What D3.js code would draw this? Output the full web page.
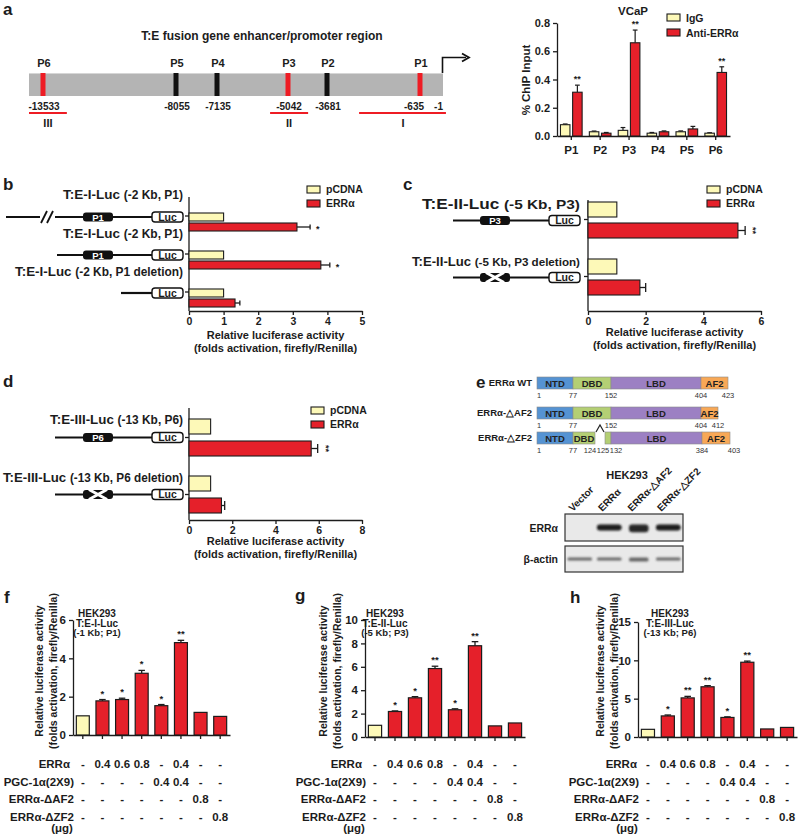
<!DOCTYPE html>
<html><head><meta charset="utf-8">
<script src="https://cdn.jsdelivr.net/npm/d3@7"></script>
<style>body{margin:0;background:#fff} svg text{font-family:"Liberation Sans",Arial,sans-serif}</style>
</head><body><svg id="c" width="800" height="837"></svg>
<script>
// ---------------- DATA ----------------
// panel a (promoter map)
const promoterSites = ["P6","P5","P4","P3","P2","P1"];
const promoterPos = [-13533,-8055,-7135,-5042,-3681,-635];
const promoterBound = [true,false,false,true,false,true];
const regionNames = ["III","II","I"];
const regionStart = [-14100,-5570,-2630];
const regionEnd = [-12550,-4340,80];
// panel a (ChIP)
const chipSites = ["P1","P2","P3","P4","P5","P6"];
const chipIgG = [0.08,0.03,0.04,0.02,0.03,0.02];
const chipIgGErr = [0.005,0.005,0.02,0.005,0.006,0.003];
const chipERR = [0.31,0.02,0.66,0.03,0.05,0.45];
const chipERRErr = [0.05,0.005,0.09,0.006,0.018,0.04];
const chipStars = ["**","","**","","","**"];
// panel b
const bLabels = [["T:E-I-Luc","(-2 Kb, P1)"],["T:E-I-Luc","(-2 Kb, P1)"],["T:E-I-Luc","(-2 Kb, P1 deletion)"]];
const bPcdna = [1,1,1];
const bERR = [3.12,3.81,1.33];
const bERRErr = [0.38,0.26,0.14];
const bStars = ["*","*",""];
const bTicks = [0,1,2,3,4,5];
// panel c
const cLabels = [["T:E-II-Luc","(-5 Kb, P3)"],["T:E-II-Luc","(-5 Kb, P3 deletion)"]];
const cPcdna = [1,1];
const cERR = [5.2,1.8];
const cERRErr = [0.25,0.2];
const cStars = ["**",""];
const cTicks = [0,2,4,6];
// panel d
const dLabels = [["T:E-III-Luc","(-13 Kb, P6)"],["T:E-III-Luc","(-13 Kb, P6 deletion)"]];
const dPcdna = [1,1];
const dERR = [5.65,1.5];
const dERRErr = [0.3,0.15];
const dStars = ["**",""];
const dTicks = [0,2,4,6,8];
// panel e
const eRows = ["ERRα WT","ERRα-△AF2","ERRα-△ZF2"];
const eDomNames = [["NTD","DBD","LBD","AF2"],["NTD","DBD","LBD","AF2"],["NTD","DBD","","LBD","AF2"]];
const eDomStart = [[1,77,152,404],[1,77,152,404],[1,77,125,132,384]];
const eDomEnd = [[77,152,404,423],[77,152,404,412],[77,124,132,384,403]];
const eTickVals = [[1,77,152,404,423],[1,77,152,404,412],[1,77,124,125,132,384,403]];
const blotLanes = ["Vector","ERRα","ERRα-△AF2","ERRα-△ZF2"];
const blotERR = [0,1,0.95,1];
const blotActin = [0.7,0.7,0.7,0.7];
// panels f, g, h
const tableRows = ["ERRα","PGC-1α(2X9)","ERRα-ΔAF2","ERRα-ΔZF2"];
const tERR = ["-","0.4","0.6","0.8","-","0.4","-","-"];
const tPGC = ["-","-","-","-","0.4","0.4","-","-"];
const tAF2 = ["-","-","-","-","-","-","0.8","-"];
const tZF2 = ["-","-","-","-","-","-","-","0.8"];
const fVals = [1.0,1.78,1.85,3.22,1.53,4.82,1.18,0.97];
const fErr = [0,0.07,0.07,0.15,0.06,0.12,0,0];
const fStars = ["","*","*","*","*","**","",""];
const gVals = [1.0,2.18,3.35,5.85,2.33,7.8,0.95,1.2];
const gErr = [0,0.05,0.1,0.2,0.08,0.35,0,0];
const gStars = ["","*","*","**","*","**","",""];
const hVals = [1.0,2.75,5.1,6.55,2.55,9.75,1.05,1.25];
const hErr = [0,0.12,0.2,0.15,0.08,0.15,0,0];
const hStars = ["","*","**","**","*","**","",""];

// ---------------- STYLE ----------------
const FONT = '"Liberation Sans", Arial, sans-serif';
const RED = "#e5202a", YEL = "#fdf9b8", INK = "#1c1c1c";
const svg = d3.select("#c");
svg.append("rect").attr("width",800).attr("height",837).attr("fill","#fff");
const defs = svg.append("defs");
defs.append("filter").attr("id","blur").attr("x","-20%").attr("y","-80%").attr("width","140%").attr("height","260%")
  .append("feGaussianBlur").attr("stdDeviation",1.1);

function txt(g,x,y,s,o={}){
  const t=g.append("text").attr("x",x).attr("y",y).text(s)
    .attr("font-size",o.size||11).attr("font-weight",o.weight||"bold")
    .attr("text-anchor",o.anchor||"start").attr("fill",o.fill||INK);
  if(o.rotate!=null) t.attr("transform",`rotate(${o.rotate},${x},${y})`);
  return t;
}
function styleAxis(sel,size){
  sel.attr("font-family",FONT).attr("font-size",size).attr("font-weight","bold");
  sel.selectAll("path,line").attr("stroke",INK).attr("stroke-width",1.3);
  sel.selectAll("text").attr("fill",INK);
}
function letter(x,y,s){ txt(svg,x,y,s,{size:17}); }

// ---------------- PANEL a: map ----------------
(function(){
  const g=svg.append("g");
  letter(3,15,"a");
  // schematic (non-linear) layout of the map
  const x=d3.scaleLinear().domain([-14100,...promoterPos,-1]).range([29,43,176,217,288,327,420,443]);
  txt(g,262,40,"T:E fusion gene enhancer/promoter region",{size:12,anchor:"middle"});
  g.append("rect").attr("x",x(-14100)).attr("y",73).attr("width",x(-1)-x(-14100)).attr("height",23).attr("fill","#b4b4b4");
  g.append("line").attr("x1",x(-14100)).attr("x2",x(-1)).attr("y1",73.5).attr("y2",73.5).attr("stroke","#d6d6d6").attr("stroke-width",1);
  promoterSites.forEach((p,i)=>{
    const cx=x(promoterPos[i]);
    g.append("rect").attr("x",cx-2.5).attr("y",73).attr("width",5).attr("height",23).attr("fill",promoterBound[i]?"#ee1c24":"#111");
    txt(g,cx+1,67,p,{size:11,anchor:"middle"});
    if(p==="P1") txt(g,cx+4,110,String(promoterPos[i]),{size:10,anchor:"end"});
    else txt(g,cx+1,110,String(promoterPos[i]),{size:10,anchor:"middle"});
  });
  txt(g,x(-1),110,"-1",{size:10,anchor:"end"});
  regionNames.forEach((r,i)=>{
    const a=x(regionStart[i]), b=x(regionEnd[i]);
    g.append("line").attr("x1",a).attr("x2",b).attr("y1",113).attr("y2",113).attr("stroke","#ee1c24").attr("stroke-width",2);
    txt(g,i===2?403:(a+b)/2,127,r,{size:11,anchor:"middle"});
  });
  const ax=x(-1)-0.5;
  g.append("path").attr("d",`M${ax},73 V57.5 H466`).attr("fill","none").attr("stroke","#111").attr("stroke-width",1.6);
  g.append("path").attr("d",`M462,53.5 L469,57.5 L462,61.5`).attr("fill","none").attr("stroke","#111").attr("stroke-width",1.8);
})();

// ---------------- PANEL a: ChIP ----------------
(function(){
  const g=svg.append("g");
  const X0=557, X1=730, Y0=136;
  const x=d3.scaleBand().domain(chipSites).range([X0,X1]).paddingInner(0.25).paddingOuter(0.12);
  const sub=d3.scaleBand().domain([0,1]).range([0,x.bandwidth()]).paddingInner(0.22);
  const y=d3.scaleLinear().domain([0,0.8]).range([Y0,23]);
  const ya=g.append("g").attr("transform",`translate(${X0},0)`).call(d3.axisLeft(y).tickValues([0,0.2,0.4,0.6,0.8]).tickFormat(d3.format(".1f")).tickSize(4).tickSizeOuter(0));
  styleAxis(ya,11);
  const xa=g.append("g").attr("transform",`translate(0,${Y0})`).call(d3.axisBottom(x).tickSize(4).tickSizeOuter(0));
  styleAxis(xa,11.5);
  xa.selectAll("text").attr("dy","0.95em");
  txt(g,633,15,"VCaP",{size:11.5,anchor:"middle"});
  txt(g,530,80,"% ChIP Input",{size:11.5,anchor:"middle",rotate:-90});
  const series=[[chipIgG,chipIgGErr,YEL],[chipERR,chipERRErr,RED]];
  chipSites.forEach((s,i)=>{
    series.forEach((se,k)=>{
      const bx=x(s)+sub(k), w=sub.bandwidth(), v=se[0][i], e=se[1][i];
      g.append("line").attr("x1",bx+w/2).attr("x2",bx+w/2).attr("y1",y(v)).attr("y2",y(v+e)).attr("stroke",INK).attr("stroke-width",1.2);
      g.append("line").attr("x1",bx+w*0.25).attr("x2",bx+w*0.75).attr("y1",y(v+e)).attr("y2",y(v+e)).attr("stroke",INK).attr("stroke-width",1.2);
      g.append("rect").attr("x",bx).attr("y",y(v)).attr("width",w).attr("height",Y0-y(v)).attr("fill",se[2]).attr("stroke",INK).attr("stroke-width",1.1);
    });
    if(chipStars[i]){
      const bx=x(s)+sub(1)+sub.bandwidth()/2;
      txt(g,bx,y(chipERR[i]+chipERRErr[i])-3,chipStars[i],{size:9,anchor:"middle"});
    }
  });
  // legend
  [["IgG",YEL],["Anti-ERRα",RED]].forEach((l,k)=>{
    g.append("rect").attr("x",667).attr("y",14+k*15).attr("width",13).attr("height",7).attr("fill",l[1]).attr("stroke",INK).attr("stroke-width",1.1);
    txt(g,686,21.5+k*15,l[0],{size:10.5});
  });
})();

// ---------------- construct diagrams ----------------
function lineSeg(g,x1,x2,y){ g.append("line").attr("x1",x1).attr("x2",x2).attr("y1",y).attr("y2",y).attr("stroke","#111").attr("stroke-width",2.2); }
function pBox(g,x,y,label,deleted){
  g.append("rect").attr("x",x).attr("y",y-4.5).attr("width",30).attr("height",9).attr("rx",3).attr("fill","#111");
  if(!deleted){ txt(g,x+15,y+3.5,label,{size:9.5,anchor:"middle",fill:"#fff"}); }
  else{
    g.append("path").attr("d",`M${x+6},${y-5} L${x+24},${y+5} M${x+6},${y+5} L${x+24},${y-5}`).attr("stroke","#fff").attr("stroke-width",3);
  }
}
function lucBox(g,x,y){
  g.append("rect").attr("x",x).attr("y",y-5).attr("width",31).attr("height",10).attr("rx",3).attr("fill","#fff").attr("stroke","#111").attr("stroke-width",1.4);
  txt(g,x+15.5,y+3.8,"Luc",{size:10.5,anchor:"middle"});
}
function rowLabel(g,xr,y,parts,sz,w){
  const t=g.append("text").attr("x",xr).attr("y",y).attr("text-anchor","end").attr("font-weight","bold").attr("fill",INK)
    .attr("textLength",w).attr("lengthAdjust","spacingAndGlyphs");
  t.append("tspan").attr("font-size",sz[0]).text(parts[0]+" ");
  t.append("tspan").attr("font-size",sz[1]).text(parts[1]);
}

// ---------------- horizontal bar panels ----------------
function hbar(cfg){
  const g=svg.append("g");
  const x=d3.scaleLinear().domain([0,d3.max(cfg.ticks)]).range([cfg.x0,cfg.x1]);
  const y=d3.scaleBand().domain(d3.range(cfg.pc.length)).range(cfg.band);
  g.append("line").attr("x1",cfg.x0).attr("x2",cfg.x0).attr("y1",cfg.top).attr("y2",cfg.axisY).attr("stroke",INK).attr("stroke-width",1.3);
  const ya=g.append("g").attr("transform",`translate(${cfg.x0},0)`).call(d3.axisLeft(y).tickSize(4).tickSizeOuter(0).tickFormat(""));
  ya.select(".domain").remove(); styleAxis(ya,10);
  const xa=g.append("g").attr("transform",`translate(0,${cfg.axisY})`).call(d3.axisBottom(x).tickValues(cfg.ticks).tickFormat(d3.format("d")).tickSize(4).tickSizeOuter(0));
  styleAxis(xa,10.5);
  const cx=(cfg.x0+cfg.x1)/2;
  txt(g,cx,cfg.t1,"Relative luciferase activity",{size:11,anchor:"middle"});
  txt(g,cx,cfg.t1+13,"(folds activation, firefly/Renilla)",{size:11,anchor:"middle"});
  cfg.pc.forEach((v,i)=>{
    const c=y(i)+y.bandwidth()/2;
    g.append("rect").attr("x",x(0)).attr("y",c+cfg.pcOff).attr("width",x(v)-x(0)).attr("height",cfg.bh).attr("fill",YEL).attr("stroke",INK).attr("stroke-width",1.1);
    const v2=cfg.er[i], e=cfg.err[i], yy=c+cfg.erOff;
    g.append("line").attr("x1",x(v2)).attr("x2",x(v2+e)).attr("y1",yy+cfg.bh/2).attr("y2",yy+cfg.bh/2).attr("stroke",INK).attr("stroke-width",1.3);
    g.append("line").attr("x1",x(v2+e)).attr("x2",x(v2+e)).attr("y1",yy+cfg.bh*0.2).attr("y2",yy+cfg.bh*0.8).attr("stroke",INK).attr("stroke-width",1.3);
    g.append("rect").attr("x",x(0)).attr("y",yy).attr("width",x(v2)-x(0)).attr("height",cfg.bh).attr("fill",RED).attr("stroke",INK).attr("stroke-width",1.1);
    if(cfg.stars[i]){
      if(cfg.rotStar) txt(g,x(v2+e)+5,yy+cfg.bh/2,cfg.stars[i],{size:9,anchor:"middle",rotate:90});
      else txt(g,x(v2+e)+6,yy+cfg.bh/2+5,cfg.stars[i],{size:9});
    }
    cfg.construct(g,i,c);
    rowLabel(g,cfg.labelX,c+cfg.labOff[i],cfg.labels[i],cfg.labSize[i],cfg.labW[i]);
  });
  // legend
  [["pCDNA",YEL],["ERRα",RED]].forEach((l,k)=>{
    g.append("rect").attr("x",cfg.legX).attr("y",cfg.legY+k*14).attr("width",13).attr("height",7).attr("fill",l[1]).attr("stroke",INK).attr("stroke-width",1.1);
    txt(g,cfg.legX+19,cfg.legY+7+k*14,l[0],{size:10.5});
  });
}
letter(3,190,"b");
hbar({x0:189,x1:362,ticks:bTicks,band:[197,311],top:197,axisY:311,pc:bPcdna,er:bERR,err:bERRErr,stars:bStars,
  bh:8,pcOff:-3,erOff:7,t1:339,labelX:183,labOff:[-17,-16,-16],labels:bLabels,legX:307,legY:186,rotStar:false,
  labSize:[[13.5,12],[13.5,12],[13.5,12]],labW:[120,120,168],
  construct:(g,i,c)=>{ const yy=c+1;
    if(i===0){ lineSeg(g,6,40,yy); lineSeg(g,55,152,yy);
      g.append("path").attr("d",`M41,${yy+6} L47,${yy-6} M47,${yy+6} L53,${yy-6}`).attr("stroke","#111").attr("stroke-width",1.8); pBox(g,83,yy,"P1",false); }
    else if(i===1){ lineSeg(g,57,152,yy); pBox(g,83,yy,"P1",false); }
    else { lineSeg(g,121,152,yy); }
    lucBox(g,152,yy);
  }});
letter(403,190,"c");
hbar({x0:588,x1:761,ticks:cTicks,band:[191,305],top:200,axisY:311,pc:cPcdna,er:cERR,err:cERRErr,stars:cStars,
  bh:15,pcOff:-17.5,erOff:3.5,t1:336,labelX:580,labOff:[-11,-11],labels:cLabels,legX:707,legY:186,rotStar:true,
  labSize:[[14.5,13],[13,11.5]],labW:[158,168],
  construct:(g,i,c)=>{ const yy=c+1; lineSeg(g,453,550,yy); pBox(g,480,yy,"P3",i===1); lucBox(g,549,yy); }});
letter(3,387,"d");
hbar({x0:189,x1:362,ticks:dTicks,band:[409,523],top:408,axisY:520,pc:dPcdna,er:dERR,err:dERRErr,stars:dStars,
  bh:15,pcOff:-18.5,erOff:3.5,t1:545,labelX:183,labOff:[-14,-13],labels:dLabels,legX:311,legY:407,rotStar:true,
  labSize:[[13.5,12],[13.5,12]],labW:[133,180],
  construct:(g,i,c)=>{ const yy=c; lineSeg(g,55,152,yy); pBox(g,83,yy,"P6",i===1); lucBox(g,152,yy); }});

// ---------------- PANEL e ----------------
(function(){
  const g=svg.append("g");
  letter(476,388,"e");
  const domColor={NTD:"#5593d3",DBD:"#b4cf74",LBD:"#9c80c3",AF2:"#f8a856","":"#b4cf74"};
  // schematic (non-proportional) layout of residues
  const xs=[
    d3.scaleLinear().domain([1,77,152,404,423]).range([537,573,611,701,728]),
    d3.scaleLinear().domain([1,77,152,404,412]).range([537,573,611,701,718]),
    d3.scaleLinear().domain([1,77,124,125,132,384,403]).range([537,573,595,605,611,702,730])];
  const rowY=[377,407,432];
  const labDx=[[2,0,0,0,0],[2,0,0,0,0],[2,0,-5,-2,5,0,4]];
  eRows.forEach((r,i)=>{
    const x=xs[i], y0=rowY[i];
    txt(g,532,y0+9,r,{size:9.5,anchor:"end"});
    eDomNames[i].forEach((n,k)=>{
      const a=x(eDomStart[i][k]), b=x(eDomEnd[i][k]);
      g.append("rect").attr("x",a).attr("y",y0).attr("width",b-a).attr("height",12).attr("fill",domColor[n]).attr("stroke","#8a8a8a").attr("stroke-width",0.6);
      if(n) txt(g,(a+b)/2,y0+9.5,n,{size:9.5,anchor:"middle",fill:"#222"});
    });
    eTickVals[i].forEach((t,k)=>{ txt(g,x(t)+labDx[i][k],y0+21,String(t),{size:7.5,weight:"normal",anchor:"middle",fill:"#333"}); });
    if(i===2){
      g.append("path").attr("d",`M${x(124)+1},${y0} L${(x(124)+x(125))/2},${y0-7} L${x(125)-1},${y0}`).attr("fill","none").attr("stroke","#222").attr("stroke-width",1.2);
    }
  });
  // western blot
  txt(g,627,479,"HEK293",{size:11,anchor:"middle"});
  const lx=d3.scaleBand().domain(blotLanes).range([565,683]);
  blotLanes.forEach(l=>{ txt(g,lx(l)+lx.bandwidth()/2-7,512,l,{size:10,rotate:-45}); });
  const boxes=[[514,541,"ERRα",blotERR,6,"#1a1a1a"],[546,572,"β-actin",blotActin,3.2,"#333"]];
  boxes.forEach(b=>{
    g.append("rect").attr("x",565).attr("y",b[0]).attr("width",118).attr("height",b[1]-b[0]).attr("fill","#e9e9e9").attr("stroke","#333").attr("stroke-width",1.2);
    txt(g,558,(b[0]+b[1])/2+4,b[2],{size:10.5,anchor:"end"});
    blotLanes.forEach((l,k)=>{
      const v=b[3][k]; if(!v) return;
      const w=lx.bandwidth()*(k===2?0.66:0.84);
      g.append("rect").attr("x",lx(l)+(lx.bandwidth()-w)/2).attr("y",(b[0]+b[1])/2-b[4]/2).attr("width",w).attr("height",b[4]*(k===2?1.3:1))
        .attr("rx",b[4]/2).attr("fill",b[5]).attr("opacity",v).attr("filter","url(#blur)");
    });
  });
})();

// ---------------- vertical bar panels ----------------
function vbar(cfg){
  const g=svg.append("g");
  const x=d3.scaleBand().domain(d3.range(cfg.vals.length)).range([cfg.x0,cfg.x1]).paddingInner(0.34).paddingOuter(0.17);
  const y=d3.scaleLinear().domain([0,cfg.max]).range([cfg.y0,cfg.y1]);
  const ya=g.append("g").attr("transform",`translate(${cfg.x0},0)`).call(d3.axisLeft(y).tickValues(cfg.ticks).tickFormat(d3.format("d")).tickSize(4).tickSizeOuter(0));
  styleAxis(ya,11.5);
  const xa=g.append("g").attr("transform",`translate(0,${cfg.y0})`).call(d3.axisBottom(x).tickFormat("").tickSize(4).tickSizeOuter(0));
  styleAxis(xa,10);
  cfg.vals.forEach((v,i)=>{
    const bx=x(i), w=x.bandwidth(), e=cfg.err[i];
    if(e>0){
      g.append("line").attr("x1",bx+w/2).attr("x2",bx+w/2).attr("y1",y(v)).attr("y2",y(v+e)).attr("stroke",INK).attr("stroke-width",1.3);
      g.append("line").attr("x1",bx+w*0.25).attr("x2",bx+w*0.75).attr("y1",y(v+e)).attr("y2",y(v+e)).attr("stroke",INK).attr("stroke-width",1.3);
    }
    g.append("rect").attr("x",bx).attr("y",y(v)).attr("width",w).attr("height",cfg.y0-y(v)).attr("fill",i===0?YEL:RED).attr("stroke",INK).attr("stroke-width",1.2);
    if(cfg.stars[i]) txt(g,bx+w/2,y(v+e)-3,cfg.stars[i],{size:9.5,anchor:"middle"});
  });
  // inset
  cfg.inset.forEach((s,k)=>txt(g,cfg.insetX,617+k*9.5,s,{size:k===2?9.5:10,anchor:"middle"}));
  // y label
  txt(g,cfg.x0+cfg.yl[0],671,"Relative luciferase activity",{size:10.5,anchor:"middle",rotate:-90});
  txt(g,cfg.x0+cfg.yl[1],671,"(folds activation, firefly/Renilla)",{size:10.5,anchor:"middle",rotate:-90});
  // table
  const rows=[tERR,tPGC,tAF2,tZF2], rowY=[768,786,803,821];
  rows.forEach((r,k)=>{
    txt(g,cfg.x0+1-(k===0?cfg.errShift:0),rowY[k],tableRows[k],{size:11.5,anchor:"end"});
    r.forEach((s,i)=>txt(g,x(i)+x.bandwidth()/2,rowY[k],s,{size:11.5,anchor:"middle"}));
  });
  txt(g,cfg.x0-11,832,"(μg)",{size:11.5,anchor:"middle"});
}
letter(4,603,"f");
vbar({x0:73,x1:230,y0:735,y1:620,max:6,ticks:[0,2,4,6],vals:fVals,err:fErr,stars:fStars,inset:["HEK293","T:E-I-Luc","(-1 Kb; P1)"],insetX:97,yl:[-30,-16],errShift:4});
letter(295,601,"g");
vbar({x0:365,x1:525,y0:737,y1:620,max:10,ticks:[0,2,4,6,8,10],vals:gVals,err:gErr,stars:gStars,inset:["HEK293","T:E-II-Luc","(-5 Kb; P3)"],insetX:385,yl:[-38,-24],errShift:4});
letter(570,603,"h");
vbar({x0:638,x1:797,y0:737,y1:622,max:15,ticks:[0,5,10,15],vals:hVals,err:hErr,stars:hStars,inset:["HEK293","T:E-III-Luc","(-13 Kb; P6)"],insetX:670,yl:[-34,-20],errShift:2});
</script></body></html>
